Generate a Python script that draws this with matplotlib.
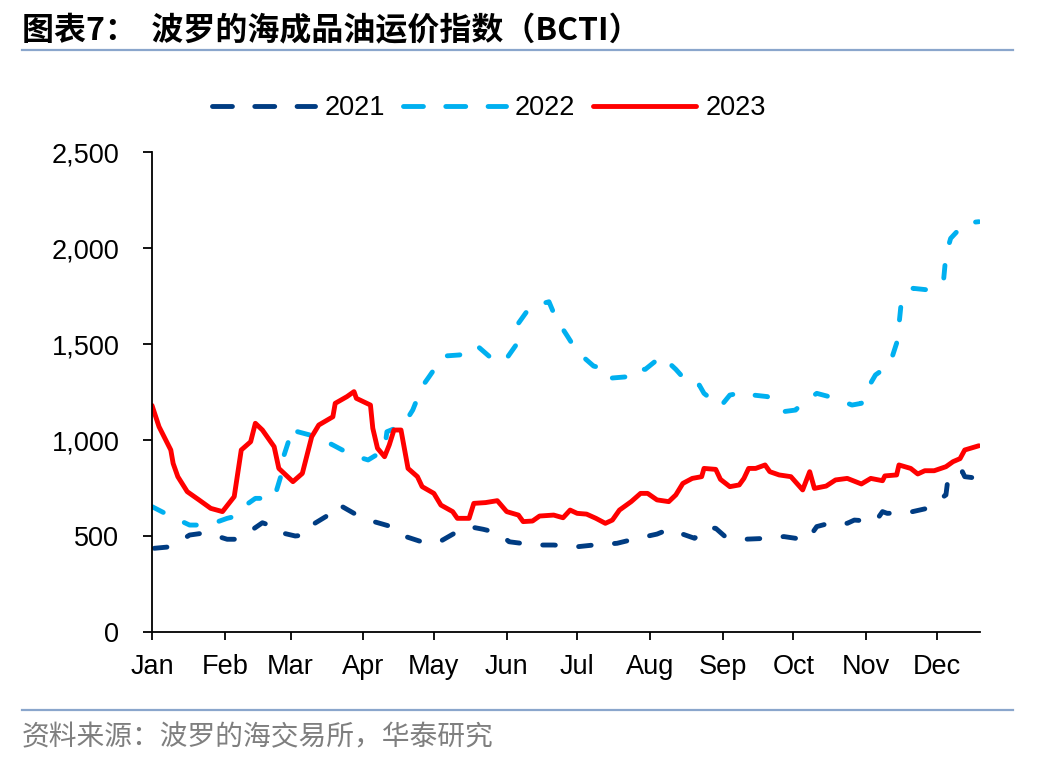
import matplotlib
matplotlib.use("Agg")
import matplotlib.pyplot as plt
from matplotlib.lines import Line2D

plt.rcParams['font.family'] = ['Liberation Sans', 'Noto Sans CJK SC', 'DejaVu Sans']

# ---- data (x = days since Jan 1) ----
month_labels = ['Jan', 'Feb', 'Mar', 'Apr', 'May', 'Jun', 'Jul', 'Aug', 'Sep', 'Oct', 'Nov', 'Dec']
month_starts = [0, 31, 59, 90, 120, 151, 181, 212, 243, 273, 304, 334]
y_ticks = [0, 500, 1000, 1500, 2000, 2500]
y_tick_labels = ['0', '500', '1,000', '1,500', '2,000', '2,500']

d2021 = [1, 8, 16, 23, 32, 36, 40, 47, 51, 53, 61, 65, 67, 74, 79, 86, 93, 101, 106, 116,
         123, 130, 135, 141, 148, 152, 163, 171, 181, 188, 198, 205, 215, 220, 231, 236,
         240, 244, 252, 262, 269, 279, 283, 291, 296, 299, 308, 311, 313, 322, 330, 338,
         339, 345, 346, 352]
v2021 = [436, 444, 505, 517, 483, 483, 510, 569, 552, 523, 500, 505, 549, 601, 667, 618, 580,
         552, 505, 465, 474, 523, 549, 535, 514, 470, 453, 453, 444, 453, 462, 483, 510, 535,
         488, 545, 540, 497, 483, 488, 497, 479, 549, 575, 566, 583, 575, 627, 618, 622, 644,
         714, 813, 835, 809, 800]

d2022 = [0, 7, 16, 24, 32, 35, 38, 44, 49, 52, 55, 56, 59, 60, 62, 70, 77, 85, 92, 99, 100,
         107, 111, 115, 118, 124, 131, 138, 144, 150, 155, 156, 161, 169, 172, 177, 181, 188,
         192, 194, 203, 205, 210, 217, 223, 229, 233, 235, 242, 246, 253, 256, 262, 269, 274,
         276, 283, 291, 298, 302, 303, 308, 314, 317, 318, 319, 324, 331, 337, 338, 340, 346,
         352]
v2022 = [653, 609, 557, 557, 592, 601, 644, 696, 696, 696, 818, 913, 1026, 1069, 1043, 1017,
         974, 922, 896, 948, 1043, 1078, 1156, 1278, 1330, 1437, 1443, 1495, 1431, 1408, 1495,
         1608, 1694, 1720, 1633, 1538, 1460, 1385, 1373, 1321, 1330, 1368, 1368, 1437, 1368,
         1286, 1286, 1243, 1174, 1234, 1252, 1234, 1226, 1148, 1156, 1182, 1243, 1217, 1182,
         1191, 1234, 1339, 1391, 1504, 1599, 1720, 1790, 1781, 1833, 1964, 2050, 2129, 2137]

d2023 = [0, 3, 8, 9, 11, 15, 20, 25, 30, 35, 38, 42, 44, 47, 52, 54, 60, 64, 68, 71, 77, 78,
         83, 86, 87, 93, 94, 96, 99, 101, 103, 106, 109, 113, 115, 120, 123, 128, 130, 135,
         137, 142, 147, 151, 156, 158, 162, 165, 171, 175, 178, 181, 185, 189, 193, 196, 199,
         204, 208, 211, 215, 220, 223, 226, 230, 234, 235, 240, 242, 246, 250, 252, 254, 257,
         261, 263, 267, 272, 277, 280, 282, 287, 291, 296, 302, 306, 311, 312, 317, 318, 323,
         326, 329, 333, 338, 341, 344, 346, 352]
v2023 = [1180, 1069, 948, 878, 809, 731, 688, 644, 627, 705, 948, 991, 1087, 1052, 965, 852,
         783, 826, 1017, 1078, 1121, 1191, 1226, 1252, 1217, 1182, 1061, 957, 913, 974, 1052,
         1052, 852, 809, 757, 722, 661, 627, 592, 592, 670, 674, 684, 627, 609, 575, 578, 604,
         609, 595, 635, 618, 614, 592, 566, 583, 635, 679, 722, 722, 688, 679, 714, 774, 800,
         809, 852, 847, 795, 757, 766, 800, 852, 852, 870, 835, 818, 809, 740, 835, 748, 760,
         792, 800, 771, 800, 788, 813, 818, 870, 852, 823, 840, 840, 861, 887, 903, 948, 970]

c2021 = '#003C82'
c2022 = '#00B0F0'
c2023 = '#FF0000'

fig = plt.figure(figsize=(10.48, 7.6), dpi=100)
ax = fig.add_axes([152 / 1048, 1 - 632 / 760, (980 - 152) / 1048, (632 - 152) / 760])

lw = 3.5
ax.plot(d2021, v2021, color=c2021, lw=lw, linestyle=(0, (2.6, 4.8)),
        dash_capstyle='round', solid_joinstyle='round')
ax.plot(d2022, v2022, color=c2022, lw=lw, linestyle=(0, (2.6, 4.8)),
        dash_capstyle='round', solid_joinstyle='round')
ax.plot(d2023, v2023, color=c2023, lw=lw, solid_capstyle='round', solid_joinstyle='round')

ax.set_xlim(0, 352.5)
ax.set_ylim(0, 2500)
ax.set_xticks(month_starts)
ax.set_xticklabels(month_labels)
ax.set_yticks(y_ticks)
ax.set_yticklabels(y_tick_labels)
for s in ['top', 'right']:
    ax.spines[s].set_visible(False)
for s in ['left', 'bottom']:
    ax.spines[s].set_linewidth(1.3)
    ax.spines[s].set_color('#000000')
ax.tick_params(axis='y', direction='out', length=6.5, width=1.3, pad=17, labelsize=19.5)
ax.tick_params(axis='x', direction='out', length=6, width=1.3, pad=10, labelsize=19.5)

handles = [
    Line2D([], [], color=c2021, lw=lw, linestyle=(0, (4.1, 4.6)), dash_capstyle='round'),
    Line2D([], [], color=c2022, lw=lw, linestyle=(0, (4.1, 4.6)), dash_capstyle='round'),
    Line2D([], [], color=c2023, lw=lw, solid_capstyle='round'),
]
fig.legend(handles, ['2021', '2022', '2023'], loc='center', bbox_to_anchor=(489 / 1048, 1 - 108 / 760),
           ncol=3, frameon=False, fontsize=19.5, handlelength=3.8, handletextpad=0.35,
           columnspacing=0.65)

# title and rules
fig.text(22 / 1048, 1 - 31 / 760, '图表7：  波罗的海成品油运价指数（BCTI）',
         family=['Noto Sans CJK SC', 'DejaVu Sans'], fontweight='bold', fontsize=23,
         ha='left', va='center', color='#000000')
rule_color = '#8AA6CC'
fig.add_artist(Line2D([22 / 1048, 1013 / 1048], [1 - 50 / 760, 1 - 50 / 760],
                      transform=fig.transFigure, color=rule_color, lw=1.6))
fig.add_artist(Line2D([22 / 1048, 1013 / 1048], [1 - 710 / 760, 1 - 710 / 760],
                      transform=fig.transFigure, color=rule_color, lw=1.6))
fig.text(22 / 1048, 1 - 737 / 760, '资料来源：波罗的海交易所，华泰研究',
         family=['Noto Sans CJK SC', 'DejaVu Sans'], fontweight='light', fontsize=20,
         ha='left', va='center', color='#7F7F7F')

fig.savefig('out.png', dpi=100)
